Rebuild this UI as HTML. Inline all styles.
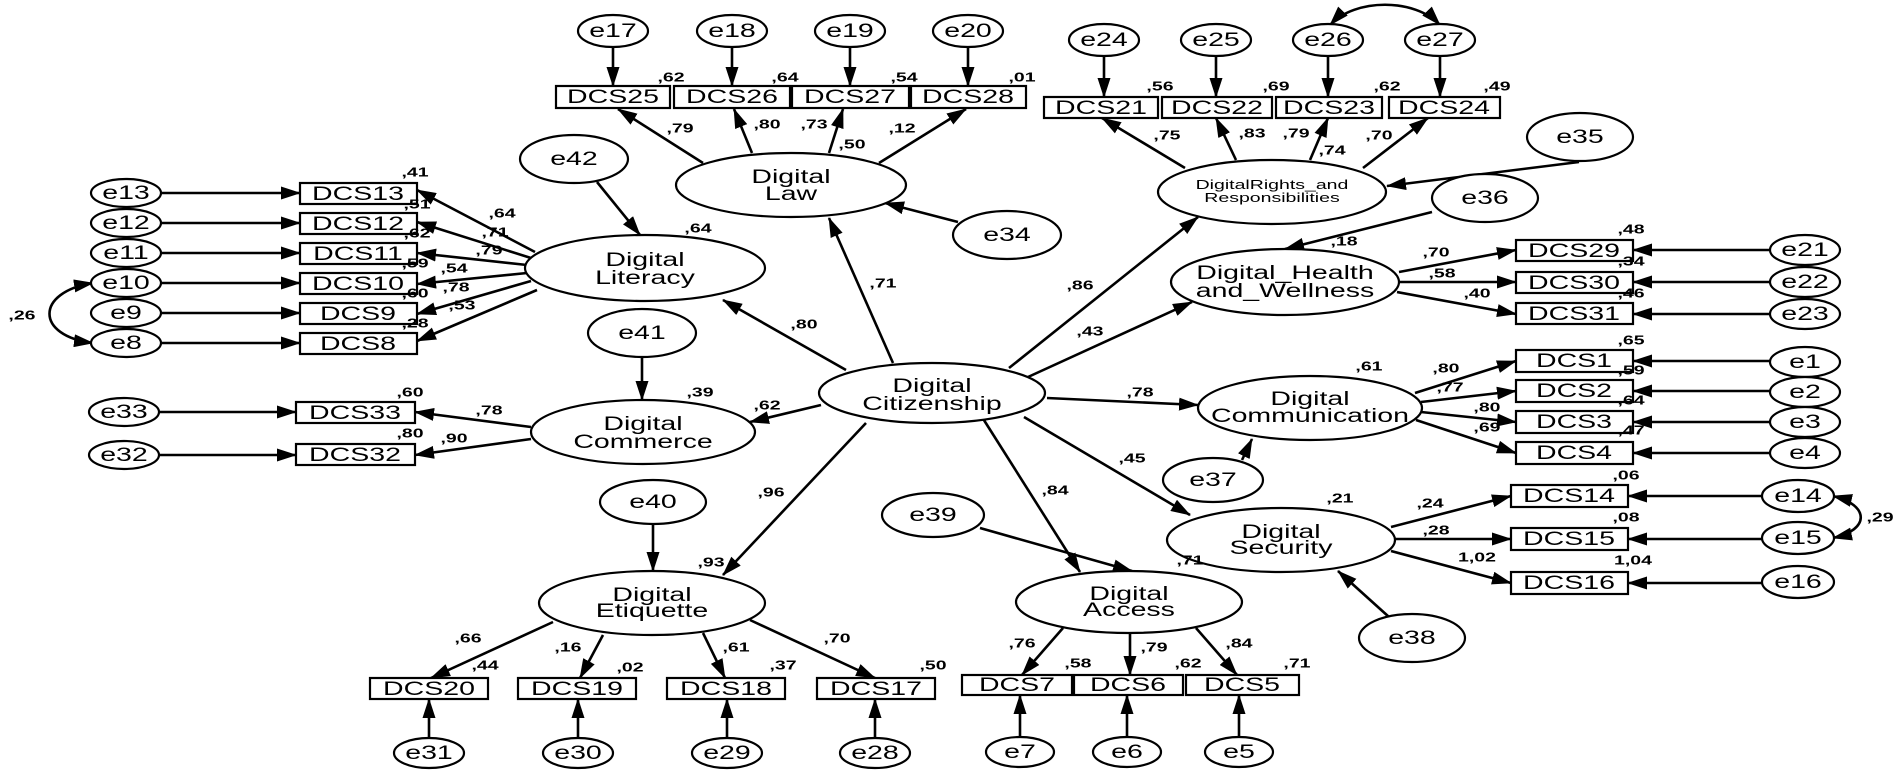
<!DOCTYPE html>
<html><head><meta charset="utf-8"><style>
html,body{margin:0;padding:0;background:#fff;}
svg{display:block;}
text{font-family:"Liberation Sans",Arial,sans-serif;fill:#000;}
.e{font-size:19px;text-anchor:middle;dominant-baseline:central;}
.b{font-size:19px;text-anchor:middle;dominant-baseline:central;}
.l{font-size:19px;text-anchor:middle;}
.n{font-size:13px;text-anchor:middle;dominant-baseline:central;font-weight:bold;}
ellipse,rect{fill:#fff;stroke:#000;stroke-width:2.2;}
line,path.c{stroke:#000;stroke-width:2.6;fill:none;}
</style></head><body>
<svg id="s" width="1902" height="777" viewBox="0 0 1902 777" xmlns="http://www.w3.org/2000/svg">
<defs>
<marker id="a" markerUnits="userSpaceOnUse" markerWidth="20" markerHeight="13" refX="19" refY="6.5" orient="auto-start-reverse"><path d="M0,0 L20,6.5 L0,13 z" fill="#000"/></marker>
</defs>
<g marker-end="url(#a)">
<line x1="613" y1="47" x2="613" y2="86"/><line x1="732" y1="47" x2="732" y2="86"/><line x1="850" y1="47" x2="850" y2="86"/><line x1="968" y1="47" x2="968" y2="86"/>
<line x1="1104" y1="55" x2="1104" y2="97"/><line x1="1216" y1="55" x2="1216" y2="97"/><line x1="1328" y1="55" x2="1328" y2="97"/><line x1="1440" y1="55" x2="1440" y2="97"/>
<line x1="161" y1="193" x2="300" y2="193"/><line x1="161" y1="223" x2="300" y2="223"/><line x1="161" y1="253" x2="300" y2="253"/><line x1="161" y1="283" x2="300" y2="283"/><line x1="161" y1="313" x2="300" y2="313"/><line x1="161" y1="343" x2="300" y2="343"/>
<line x1="159" y1="412" x2="296" y2="412"/><line x1="159" y1="455" x2="296" y2="455"/>
<line x1="429" y1="738" x2="429" y2="699"/><line x1="578" y1="738" x2="578" y2="699"/><line x1="727" y1="738" x2="727" y2="699"/><line x1="875" y1="738" x2="875" y2="699"/>
<line x1="1020" y1="737" x2="1020" y2="695"/><line x1="1127" y1="737" x2="1127" y2="695"/><line x1="1239" y1="737" x2="1239" y2="695"/>
<line x1="1770" y1="250" x2="1633" y2="250"/><line x1="1770" y1="282" x2="1633" y2="282"/><line x1="1770" y1="314" x2="1633" y2="314"/>
<line x1="1770" y1="361" x2="1633" y2="361"/><line x1="1770" y1="391" x2="1633" y2="391"/><line x1="1770" y1="422" x2="1633" y2="422"/><line x1="1770" y1="453" x2="1633" y2="453"/>
<line x1="1762" y1="496" x2="1628" y2="496"/><line x1="1762" y1="539" x2="1628" y2="539"/><line x1="1762" y1="583" x2="1628" y2="583"/>
<line x1="703" y1="163" x2="618" y2="109"/><line x1="752" y1="153" x2="734" y2="109"/><line x1="829" y1="153" x2="843" y2="109"/><line x1="879" y1="163" x2="966" y2="109"/>
<line x1="1185" y1="168" x2="1102" y2="118"/><line x1="1236" y1="160" x2="1216" y2="118"/><line x1="1310" y1="160" x2="1328" y2="118"/><line x1="1363" y1="168" x2="1428" y2="118"/>
<line x1="535" y1="252" x2="417" y2="190"/><line x1="531" y1="258" x2="417" y2="222"/><line x1="527" y1="265" x2="417" y2="253"/><line x1="527" y1="273" x2="417" y2="284"/><line x1="531" y1="281" x2="417" y2="314"/><line x1="537" y1="290" x2="417" y2="341"/>
<line x1="531" y1="427" x2="415" y2="412"/><line x1="531" y1="439" x2="415" y2="455"/>
<line x1="553" y1="622" x2="431" y2="678"/><line x1="603" y1="635" x2="580" y2="678"/><line x1="703" y1="633" x2="725" y2="678"/><line x1="750" y1="620" x2="875" y2="678"/>
<line x1="1063" y1="628" x2="1022" y2="675"/><line x1="1130" y1="633" x2="1130" y2="675"/><line x1="1196" y1="628" x2="1237" y2="675"/>
<line x1="1399" y1="272" x2="1516" y2="250"/><line x1="1399" y1="282" x2="1516" y2="282"/><line x1="1397" y1="292" x2="1516" y2="314"/>
<line x1="1415" y1="393" x2="1516" y2="361"/><line x1="1421" y1="402" x2="1516" y2="391"/><line x1="1421" y1="412" x2="1516" y2="422"/><line x1="1416" y1="420" x2="1516" y2="453"/>
<line x1="1391" y1="527" x2="1511" y2="496"/><line x1="1395" y1="539" x2="1511" y2="539"/><line x1="1391" y1="551" x2="1511" y2="583"/>
<line x1="893" y1="363" x2="829" y2="218"/><line x1="846" y1="370" x2="723" y2="300"/><line x1="1009" y1="368" x2="1198" y2="217"/><line x1="1028" y1="377" x2="1192" y2="302"/>
<line x1="821" y1="405" x2="750" y2="422"/><line x1="866" y1="423" x2="723" y2="575"/><line x1="982" y1="417" x2="1080" y2="572"/><line x1="1024" y1="417" x2="1190" y2="515"/><line x1="1047" y1="398" x2="1198" y2="405"/>
<line x1="597" y1="182" x2="640" y2="235"/><line x1="958" y1="222" x2="885" y2="203"/><line x1="642" y1="357" x2="642" y2="400"/><line x1="653" y1="524" x2="653" y2="571"/>
<line x1="980" y1="528" x2="1132" y2="571"/><line x1="1242" y1="460" x2="1252" y2="439"/><line x1="1389" y1="617" x2="1338" y2="571"/>
<line x1="1579" y1="162" x2="1387" y2="186"/><line x1="1432" y1="212" x2="1285" y2="249"/>
</g>
<g marker-start="url(#a)" marker-end="url(#a)">
<path class="c" d="M93,283 C35,292 35,336 93,343"/>
<path class="c" d="M1330,25 C1355,-2 1415,-2 1440,25"/>
<path class="c" d="M1833,496 C1870,505 1870,530 1833,538"/>
</g>
<g>
<rect x="556" y="86" width="114" height="22"/><rect x="674" y="86" width="116" height="22"/><rect x="792" y="86" width="117" height="22"/><rect x="911" y="86" width="115" height="22"/>
<rect x="1044" y="97" width="114" height="21"/><rect x="1162" y="97" width="110" height="21"/><rect x="1276" y="97" width="106" height="21"/><rect x="1389" y="97" width="111" height="21"/>
<rect x="300" y="183" width="117" height="21"/><rect x="300" y="213" width="117" height="21"/><rect x="300" y="243" width="117" height="21"/><rect x="300" y="273" width="117" height="21"/><rect x="300" y="303" width="117" height="21"/><rect x="300" y="333" width="117" height="21"/>
<rect x="296" y="402" width="119" height="21"/><rect x="296" y="444" width="119" height="21"/>
<rect x="370" y="678" width="118" height="21"/><rect x="518" y="678" width="118" height="21"/><rect x="667" y="678" width="118" height="21"/><rect x="817" y="678" width="118" height="21"/>
<rect x="962" y="675" width="110" height="20"/><rect x="1074" y="675" width="109" height="20"/><rect x="1186" y="675" width="113" height="20"/>
<rect x="1516" y="240" width="117" height="21"/><rect x="1516" y="272" width="117" height="21"/><rect x="1516" y="303" width="117" height="21"/>
<rect x="1516" y="350" width="117" height="22"/><rect x="1516" y="380" width="117" height="22"/><rect x="1516" y="411" width="117" height="22"/><rect x="1516" y="442" width="117" height="22"/>
<rect x="1511" y="485" width="117" height="22"/><rect x="1511" y="528" width="117" height="22"/><rect x="1511" y="572" width="117" height="22"/>
</g>
<g>
<text class="b" x="613" y="97">DCS25</text><text class="b" x="732" y="97">DCS26</text><text class="b" x="850" y="97">DCS27</text><text class="b" x="968" y="97">DCS28</text>
<text class="b" x="1101" y="108">DCS21</text><text class="b" x="1217" y="108">DCS22</text><text class="b" x="1329" y="108">DCS23</text><text class="b" x="1444" y="108">DCS24</text>
<text class="b" x="358" y="194">DCS13</text><text class="b" x="358" y="224">DCS12</text><text class="b" x="358" y="254">DCS11</text><text class="b" x="358" y="284">DCS10</text><text class="b" x="358" y="314">DCS9</text><text class="b" x="358" y="344">DCS8</text>
<text class="b" x="355" y="413">DCS33</text><text class="b" x="355" y="455">DCS32</text>
<text class="b" x="429" y="689">DCS20</text><text class="b" x="577" y="689">DCS19</text><text class="b" x="726" y="689">DCS18</text><text class="b" x="876" y="689">DCS17</text>
<text class="b" x="1017" y="685">DCS7</text><text class="b" x="1128" y="685">DCS6</text><text class="b" x="1242" y="685">DCS5</text>
<text class="b" x="1574" y="251">DCS29</text><text class="b" x="1574" y="283">DCS30</text><text class="b" x="1574" y="314">DCS31</text>
<text class="b" x="1574" y="361">DCS1</text><text class="b" x="1574" y="391">DCS2</text><text class="b" x="1574" y="422">DCS3</text><text class="b" x="1574" y="453">DCS4</text>
<text class="b" x="1569" y="496">DCS14</text><text class="b" x="1569" y="539">DCS15</text><text class="b" x="1569" y="583">DCS16</text>
</g>
<g>
<ellipse cx="613" cy="31" rx="35" ry="16"/><ellipse cx="732" cy="31" rx="35" ry="16"/><ellipse cx="850" cy="31" rx="35" ry="16"/><ellipse cx="968" cy="31" rx="35" ry="16"/>
<ellipse cx="1104" cy="40" rx="35" ry="16"/><ellipse cx="1216" cy="40" rx="35" ry="16"/><ellipse cx="1328" cy="40" rx="35" ry="16"/><ellipse cx="1440" cy="40" rx="35" ry="16"/>
<ellipse cx="126" cy="193" rx="35" ry="14"/><ellipse cx="126" cy="223" rx="35" ry="14"/><ellipse cx="126" cy="253" rx="35" ry="14"/><ellipse cx="126" cy="283" rx="35" ry="14"/><ellipse cx="126" cy="313" rx="35" ry="14"/><ellipse cx="126" cy="343" rx="35" ry="14"/>
<ellipse cx="124" cy="412" rx="35" ry="14"/><ellipse cx="124" cy="455" rx="35" ry="14"/>
<ellipse cx="429" cy="753" rx="35" ry="15"/><ellipse cx="578" cy="753" rx="35" ry="15"/><ellipse cx="727" cy="753" rx="35" ry="15"/><ellipse cx="875" cy="753" rx="35" ry="15"/>
<ellipse cx="1020" cy="752" rx="34" ry="15"/><ellipse cx="1127" cy="752" rx="34" ry="15"/><ellipse cx="1239" cy="752" rx="34" ry="15"/>
<ellipse cx="1805" cy="250" rx="35" ry="15"/><ellipse cx="1805" cy="282" rx="35" ry="15"/><ellipse cx="1805" cy="314" rx="35" ry="15"/>
<ellipse cx="1805" cy="362" rx="35" ry="15"/><ellipse cx="1805" cy="392" rx="35" ry="15"/><ellipse cx="1805" cy="422" rx="35" ry="15"/><ellipse cx="1805" cy="453" rx="35" ry="15"/>
<ellipse cx="1798" cy="496" rx="36" ry="16"/><ellipse cx="1798" cy="538" rx="36" ry="16"/><ellipse cx="1798" cy="582" rx="36" ry="16"/>
<ellipse cx="574" cy="159" rx="54" ry="24"/><ellipse cx="1007" cy="235" rx="54" ry="24"/><ellipse cx="642" cy="333" rx="54" ry="24"/><ellipse cx="653" cy="502" rx="53" ry="22"/>
<ellipse cx="933" cy="515" rx="51" ry="22"/><ellipse cx="1213" cy="480" rx="50" ry="22"/><ellipse cx="1412" cy="638" rx="53" ry="24"/><ellipse cx="1580" cy="137" rx="53" ry="24"/><ellipse cx="1485" cy="198" rx="53" ry="24"/>
</g>
<g>
<text class="e" x="613" y="31">e17</text><text class="e" x="732" y="31">e18</text><text class="e" x="850" y="31">e19</text><text class="e" x="968" y="31">e20</text>
<text class="e" x="1104" y="40">e24</text><text class="e" x="1216" y="40">e25</text><text class="e" x="1328" y="40">e26</text><text class="e" x="1440" y="40">e27</text>
<text class="e" x="126" y="193">e13</text><text class="e" x="126" y="223">e12</text><text class="e" x="126" y="253">e11</text><text class="e" x="126" y="283">e10</text><text class="e" x="126" y="313">e9</text><text class="e" x="126" y="343">e8</text>
<text class="e" x="124" y="412">e33</text><text class="e" x="124" y="455">e32</text>
<text class="e" x="429" y="753">e31</text><text class="e" x="578" y="753">e30</text><text class="e" x="727" y="753">e29</text><text class="e" x="875" y="753">e28</text>
<text class="e" x="1020" y="752">e7</text><text class="e" x="1127" y="752">e6</text><text class="e" x="1239" y="752">e5</text>
<text class="e" x="1805" y="250">e21</text><text class="e" x="1805" y="282">e22</text><text class="e" x="1805" y="314">e23</text>
<text class="e" x="1805" y="362">e1</text><text class="e" x="1805" y="392">e2</text><text class="e" x="1805" y="422">e3</text><text class="e" x="1805" y="453">e4</text>
<text class="e" x="1798" y="496">e14</text><text class="e" x="1798" y="538">e15</text><text class="e" x="1798" y="582">e16</text>
<text class="e" x="574" y="159">e42</text><text class="e" x="1007" y="235">e34</text><text class="e" x="642" y="333">e41</text><text class="e" x="653" y="502">e40</text>
<text class="e" x="933" y="515">e39</text><text class="e" x="1213" y="480">e37</text><text class="e" x="1412" y="638">e38</text><text class="e" x="1580" y="137">e35</text><text class="e" x="1485" y="198">e36</text>
</g>
<g>
<ellipse cx="791" cy="185" rx="115" ry="32"/><ellipse cx="645" cy="268" rx="120" ry="33"/><ellipse cx="643" cy="432" rx="112" ry="32"/><ellipse cx="652" cy="603" rx="113" ry="32"/>
<ellipse cx="932" cy="393" rx="113" ry="30"/><ellipse cx="1129" cy="602" rx="113" ry="31"/><ellipse cx="1281" cy="540" rx="114" ry="32"/><ellipse cx="1310" cy="408" rx="112" ry="32"/>
<ellipse cx="1285" cy="282" rx="114" ry="33"/><ellipse cx="1272" cy="192" rx="114" ry="32"/>
</g>
<g>
<text class="l" x="791" y="183">Digital</text><text class="l" x="791" y="200">Law</text>
<text class="l" x="645" y="266">Digital</text><text class="l" x="645" y="284">Literacy</text>
<text class="l" x="643" y="430">Digital</text><text class="l" x="643" y="448">Commerce</text>
<text class="l" x="652" y="601">Digital</text><text class="l" x="652" y="617">Etiquette</text>
<text class="l" x="932" y="392">Digital</text><text class="l" x="932" y="410">Citizenship</text>
<text class="l" x="1129" y="600">Digital</text><text class="l" x="1129" y="616">Access</text>
<text class="l" x="1281" y="538">Digital</text><text class="l" x="1281" y="554">Security</text>
<text class="l" x="1310" y="405">Digital</text><text class="l" x="1310" y="422">Communication</text>
<text class="l" x="1285" y="279">Digital_Health</text><text class="l" x="1285" y="297">and_Wellness</text>
<text class="l" x="1272" y="189" style="font-size:13px">DigitalRights_and</text><text class="l" x="1272" y="202" style="font-size:13px">Responsibilities</text>
</g>
<g>
<text class="n" x="671" y="77">,62</text><text class="n" x="785" y="77">,64</text><text class="n" x="904" y="77">,54</text><text class="n" x="1022" y="77">,01</text>
<text class="n" x="680" y="128">,79</text><text class="n" x="767" y="124">,80</text><text class="n" x="814" y="124">,73</text><text class="n" x="852" y="144">,50</text><text class="n" x="902" y="128">,12</text>
<text class="n" x="1160" y="86">,56</text><text class="n" x="1276" y="86">,69</text><text class="n" x="1387" y="86">,62</text><text class="n" x="1497" y="86">,49</text>
<text class="n" x="1167" y="135">,75</text><text class="n" x="1252" y="133">,83</text><text class="n" x="1296" y="133">,79</text><text class="n" x="1332" y="150">,74</text><text class="n" x="1379" y="135">,70</text>
<text class="n" x="415" y="172">,41</text><text class="n" x="417" y="204">,51</text><text class="n" x="417" y="233">,62</text><text class="n" x="415" y="263">,59</text><text class="n" x="415" y="293">,60</text><text class="n" x="415" y="323">,28</text>
<text class="n" x="502" y="213">,64</text><text class="n" x="495" y="232">,71</text><text class="n" x="489" y="250">,79</text><text class="n" x="454" y="268">,54</text><text class="n" x="456" y="287">,78</text><text class="n" x="462" y="305">,53</text>
<text class="n" x="22" y="315">,26</text><text class="n" x="698" y="228">,64</text>
<text class="n" x="410" y="392">,60</text><text class="n" x="410" y="433">,80</text><text class="n" x="489" y="410">,78</text><text class="n" x="454" y="438">,90</text><text class="n" x="700" y="392">,39</text>
<text class="n" x="883" y="283">,71</text><text class="n" x="804" y="324">,80</text><text class="n" x="1080" y="285">,86</text><text class="n" x="1090" y="331">,43</text>
<text class="n" x="767" y="405">,62</text><text class="n" x="771" y="492">,96</text><text class="n" x="711" y="562">,93</text>
<text class="n" x="1055" y="490">,84</text><text class="n" x="1132" y="458">,45</text><text class="n" x="1140" y="392">,78</text>
<text class="n" x="468" y="638">,66</text><text class="n" x="485" y="665">,44</text><text class="n" x="568" y="647">,16</text><text class="n" x="630" y="667">,02</text>
<text class="n" x="736" y="647">,61</text><text class="n" x="783" y="665">,37</text><text class="n" x="837" y="638">,70</text><text class="n" x="933" y="665">,50</text>
<text class="n" x="1190" y="560">,71</text>
<text class="n" x="1022" y="643">,76</text><text class="n" x="1154" y="647">,79</text><text class="n" x="1239" y="643">,84</text>
<text class="n" x="1078" y="663">,58</text><text class="n" x="1188" y="663">,62</text><text class="n" x="1297" y="663">,71</text>
<text class="n" x="1344" y="241">,18</text>
<text class="n" x="1436" y="252">,70</text><text class="n" x="1442" y="273">,58</text><text class="n" x="1477" y="293">,40</text>
<text class="n" x="1631" y="229">,48</text><text class="n" x="1631" y="261">,34</text><text class="n" x="1631" y="293">,46</text>
<text class="n" x="1369" y="366">,61</text>
<text class="n" x="1446" y="368">,80</text><text class="n" x="1450" y="387">,77</text><text class="n" x="1487" y="407">,80</text><text class="n" x="1487" y="427">,69</text>
<text class="n" x="1631" y="340">,65</text><text class="n" x="1631" y="370">,59</text><text class="n" x="1631" y="400">,64</text><text class="n" x="1631" y="430">,47</text>
<text class="n" x="1340" y="498">,21</text>
<text class="n" x="1430" y="503">,24</text><text class="n" x="1436" y="530">,28</text><text class="n" x="1477" y="557">1,02</text>
<text class="n" x="1626" y="475">,06</text><text class="n" x="1626" y="517">,08</text><text class="n" x="1633" y="560">1,04</text>
<text class="n" x="1880" y="517">,29</text>
</g>
</svg>
<script>
document.querySelectorAll('#s text').forEach(function(t){
  var x=parseFloat(t.getAttribute('x'));
  t.setAttribute('transform','translate('+x+' 0) scale(1.5 1) translate('+(-x)+' 0)');
});
</script>
</body></html>
